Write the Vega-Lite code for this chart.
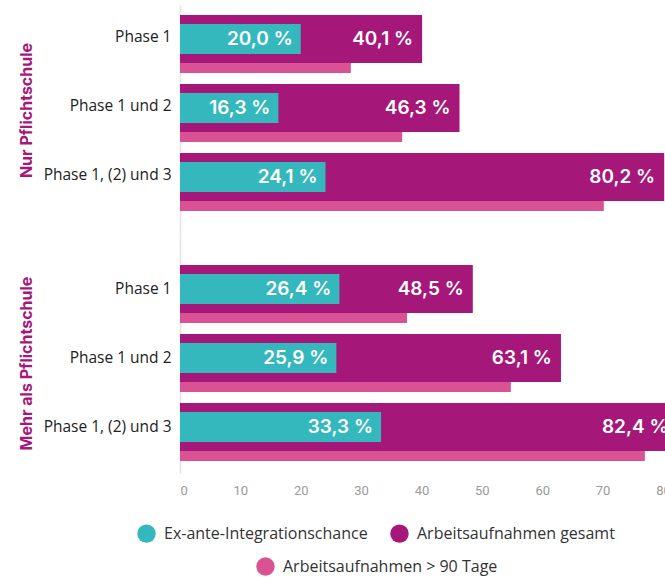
{
  "$schema": "https://vega.github.io/schema/vega-lite/v6.json",
  "padding": {"left": 18, "top": 5, "right": -6, "bottom": 0},
  "spacing": 0,
  "config": {
    "view": {"stroke": null},
    "font": "Open Sans",
    "axis": {"labelFont": "Open Sans", "titleFont": "Inter"},
    "legend": {"labelFont": "Open Sans", "labelLimit": 0, "padding": 0}
  },
  "datasets": {
    "d": [
      {"Gruppe": "Nur Pflichtschule", "Phase": "Phase 1", "exante": 20.0, "gesamt": 40.1, "lang": 28.3},
      {"Gruppe": "Nur Pflichtschule", "Phase": "Phase 1 und 2", "exante": 16.3, "gesamt": 46.3, "lang": 36.8},
      {"Gruppe": "Nur Pflichtschule", "Phase": "Phase 1, (2) und 3", "exante": 24.1, "gesamt": 80.2, "lang": 70.2},
      {"Gruppe": "Mehr als Pflichtschule", "Phase": "Phase 1", "exante": 26.4, "gesamt": 48.5, "lang": 37.6},
      {"Gruppe": "Mehr als Pflichtschule", "Phase": "Phase 1 und 2", "exante": 25.9, "gesamt": 63.1, "lang": 54.8},
      {"Gruppe": "Mehr als Pflichtschule", "Phase": "Phase 1, (2) und 3", "exante": 33.3, "gesamt": 82.4, "lang": 77.0}
    ]
  },
  "vconcat": [
    {
      "width": 486,
      "height": 234,
      "data": {"name": "d"},
      "transform": [
        {"filter": "datum.Gruppe === 'Nur Pflichtschule'"},
        {"calculate": "replace(format(datum.exante, '.1f'), '.', ',') + ' %'", "as": "lblE"},
        {"calculate": "replace(format(datum.gesamt, '.1f'), '.', ',') + ' %'", "as": "lblG"}
      ],
      "encoding": {
        "y": {
          "field": "Phase", "type": "nominal",
          "scale": {"domain": ["Phase 1", "Phase 1 und 2", "Phase 1, (2) und 3"], "paddingInner": 0, "paddingOuter": 0.196, "align": 0.17},
          "axis": {"title": "Nur Pflichtschule", "titleY": 105, "titleColor": "#a6177a", "titleFontSize": 16, "titleFontWeight": "bold", "titlePadding": 9,
                   "labelFontSize": 15.5, "labelColor": "#222222", "labelPadding": 9, "labelOffset": -7, "ticks": false, "domainColor": "#e3e3e3", "domainWidth": 1.5, "grid": false}
        }
      },
      "layer": [
        {"mark": {"type": "bar", "height": 48, "yOffset": -5, "clip": true},
         "encoding": {"x": {"field": "gesamt", "type": "quantitative", "scale": {"domain": [0, 80.5], "nice": false}, "axis": null},
                      "color": {"datum": "Arbeitsaufnahmen gesamt", "type": "nominal", "scale": {"domain": ["Ex-ante-Integrationschance", "Arbeitsaufnahmen gesamt"], "range": ["#35b8bd", "#a6177a"]},
                                "legend": {"orient": "none", "legendX": -43, "legendY": 519, "direction": "horizontal", "title": null, "symbolType": "circle", "symbolSize": 340, "labelFontSize": 16, "labelColor": "#333333", "columnPadding": 22, "labelOffset": 8, "symbolStrokeWidth": 0}}}},
        {"mark": {"type": "bar", "height": 10, "yOffset": 24, "clip": true},
         "encoding": {"x": {"field": "lang", "type": "quantitative"},
                      "fill": {"datum": "Arbeitsaufnahmen > 90 Tage", "type": "nominal", "scale": {"domain": ["Arbeitsaufnahmen > 90 Tage"], "range": ["#d95294"]},
                               "legend": {"orient": "none", "legendX": 76, "legendY": 552, "direction": "horizontal", "title": null, "symbolType": "circle", "symbolSize": 340, "labelFontSize": 16, "labelColor": "#333333", "labelOffset": 8, "symbolStrokeWidth": 0}}}},
        {"mark": {"type": "bar", "height": 30, "yOffset": -5, "clip": true},
         "encoding": {"x": {"field": "exante", "type": "quantitative"},
                      "color": {"datum": "Ex-ante-Integrationschance", "type": "nominal"}}},
        {"mark": {"type": "text", "align": "right", "baseline": "middle", "dx": -8, "yOffset": -5, "color": "white", "font": "Inter", "fontWeight": 600, "fontSize": 19, "clip": true},
         "encoding": {"x": {"field": "exante", "type": "quantitative"}, "text": {"field": "lblE"}}},
        {"mark": {"type": "text", "align": "right", "baseline": "middle", "dx": -9, "yOffset": -5, "color": "white", "font": "Inter", "fontWeight": 600, "fontSize": 19, "clip": true},
         "encoding": {"x": {"field": "gesamt", "type": "quantitative"}, "text": {"field": "lblG"}}}
      ]
    },
    {
      "width": 486,
      "height": 234,
      "data": {"name": "d"},
      "transform": [
        {"filter": "datum.Gruppe === 'Mehr als Pflichtschule'"},
        {"calculate": "replace(format(datum.exante, '.1f'), '.', ',') + ' %'", "as": "lblE"},
        {"calculate": "replace(format(datum.gesamt, '.1f'), '.', ',') + ' %'", "as": "lblG"}
      ],
      "encoding": {
        "y": {
          "field": "Phase", "type": "nominal",
          "scale": {"domain": ["Phase 1", "Phase 1 und 2", "Phase 1, (2) und 3"], "paddingInner": 0, "paddingOuter": 0.196, "align": 0.76},
          "axis": {"title": "Mehr als Pflichtschule", "titleY": 124, "titleColor": "#a6177a", "titleFontSize": 16, "titleFontWeight": "bold", "titlePadding": 9,
                   "labelFontSize": 15.5, "labelColor": "#222222", "labelPadding": 9, "labelOffset": -5, "ticks": false, "domainColor": "#e3e3e3", "domainWidth": 1.5, "grid": false}
        }
      },
      "layer": [
        {"mark": {"type": "bar", "height": 48, "yOffset": -5, "clip": true},
         "encoding": {"x": {"field": "gesamt", "type": "quantitative", "scale": {"domain": [0, 80.5], "nice": false},
                            "axis": {"values": [0, 10, 20, 30, 40, 50, 60, 70, 80], "title": null, "domain": false, "ticks": false, "grid": false, "labelColor": "#9a9a9a", "labelFont": "Roboto", "labelFontSize": 13, "labelPadding": 11}},
                      "color": {"datum": "Arbeitsaufnahmen gesamt", "type": "nominal"}}},
        {"mark": {"type": "bar", "height": 10, "yOffset": 24, "clip": true},
         "encoding": {"x": {"field": "lang", "type": "quantitative"},
                      "fill": {"datum": "Arbeitsaufnahmen > 90 Tage", "type": "nominal"}}},
        {"mark": {"type": "bar", "height": 30, "yOffset": -5, "clip": true},
         "encoding": {"x": {"field": "exante", "type": "quantitative"},
                      "color": {"datum": "Ex-ante-Integrationschance", "type": "nominal"}}},
        {"mark": {"type": "text", "align": "right", "baseline": "middle", "dx": -8, "yOffset": -5, "color": "white", "font": "Inter", "fontWeight": 600, "fontSize": 19, "clip": true},
         "encoding": {"x": {"field": "exante", "type": "quantitative"}, "text": {"field": "lblE"}}},
        {"mark": {"type": "text", "align": "right", "baseline": "middle", "dx": -9, "yOffset": -5, "color": "white", "font": "Inter", "fontWeight": 600, "fontSize": 19, "clip": true},
         "encoding": {"x": {"field": "gesamt", "type": "quantitative"}, "text": {"field": "lblG"}}}
      ]
    }
  ]
}
